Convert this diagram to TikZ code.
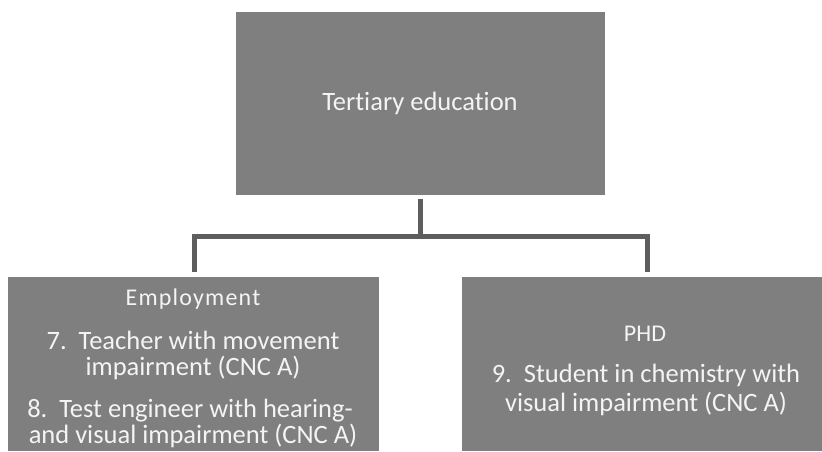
\documentclass[tikz,border=0pt]{standalone}
\usepackage{fontspec}
\setmainfont{Carlito}[Ligatures=NoCommon]
\definecolor{boxfill}{HTML}{7F7F7F}
\definecolor{linecol}{HTML}{5E5E5E}
\definecolor{txt}{HTML}{F4F4F4}
\begin{document}
\begin{tikzpicture}[x=1pt,y=-1pt,
  box/.style={draw=none,fill=boxfill,inner sep=0pt,anchor=north west},
  conn/.style={draw=linecol,line width=5pt},
  lbl/.style={text=txt,anchor=base,inner sep=0pt},
  head/.style={lbl,font=\fontsize{24}{28}\selectfont},
  item/.style={lbl,font=\fontsize{26.5}{30}\selectfont}]
\useasboundingbox (0,0) rectangle (822,451);
\node[box,minimum width=369pt,minimum height=183pt] (top) at (236,12) {};
\node[box,minimum width=371pt,minimum height=174pt] (emp) at (8,277) {};
\node[box,minimum width=360pt,minimum height=174pt] (phd) at (462,277) {};
% texts
\node[lbl,font=\fontsize{26.5}{30}\selectfont] (toptext) at (420,110) {Tertiary education};
\node[head] (emph) at (193,305) {\addfontfeature{LetterSpace=5}Employment};
\node[item] (e7a) at (193,349) {7.\ \ Teacher with movement};
\node[item] (e7b) at (193,375) {impairment (CNC A)};
\node[item] (e8a) at (190,417) {8.\ \ Test engineer with hearing-};
\node[item] (e8b) at (193,443) {and visual impairment (CNC A)};
\node[head] (phdh) at (645,341) {PHD};
\node[item] (p9a) at (646,382) {9.\ \ Student in chemistry with};
\node[item] (p9b) at (646,411) {visual impairment (CNC A)};
% connectors
\coordinate (junc) at (420,236);
\coordinate (rdrop) at (647,272);
\draw[conn,shorten <=4pt] (top.south -| junc) -- (junc);
\draw[conn,shorten >=5pt] (junc) -| (emp.north -| 194,0);
\draw[conn] (junc) -| (rdrop);
\end{tikzpicture}
\end{document}
